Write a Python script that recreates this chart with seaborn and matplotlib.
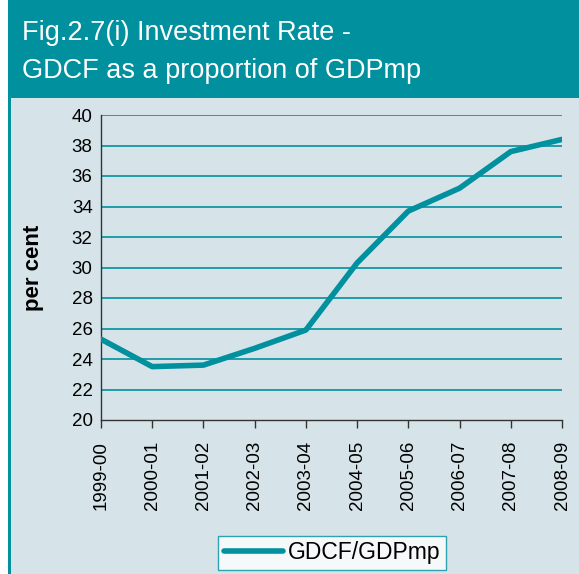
import matplotlib
matplotlib.use("Agg")
import matplotlib.pyplot as plt
import seaborn as sns
import pandas as pd
from matplotlib.patches import Rectangle

years = ["1999-00", "2000-01", "2001-02", "2002-03", "2003-04",
         "2004-05", "2005-06", "2006-07", "2007-08", "2008-09"]
gdcf = [25.3, 23.5, 23.6, 24.7, 25.9, 30.3, 33.7, 35.2, 37.6, 38.4]
yticks = [20, 22, 24, 26, 28, 30, 32, 34, 36, 38, 40]

TEAL = "#00909E"
BG = "#D6E4EA"
FAM = ['Liberation Sans', 'Arimo', 'DejaVu Sans']

sns.set_theme(style="white")
plt.rcParams['font.family'] = FAM

W, H = 579, 574
fig = plt.figure(figsize=(W / 100, H / 100), dpi=100)
fig.patch.set_facecolor("white")

# panel background and title band
fig.add_artist(Rectangle((8 / W, 0), 1 - 8 / W, 1 - 98 / H, transform=fig.transFigure,
                         facecolor=BG, edgecolor="none", zorder=0))
fig.add_artist(Rectangle((8 / W, 0), 3 / W, 1, transform=fig.transFigure,
                         facecolor=TEAL, edgecolor="none", zorder=0))
fig.add_artist(Rectangle((8 / W, 1 - 98 / H), 1 - 8 / W, 98 / H, transform=fig.transFigure,
                         facecolor=TEAL, edgecolor="none", zorder=0))
fig.text(22 / W, 1 - 33 / H, "Fig.2.7(i) Investment Rate -", color="white", fontsize=19.5,
         family=FAM, va="center", ha="left")
fig.text(22 / W, 1 - 71 / H, "GDCF as a proportion of GDPmp", color="white", fontsize=19.5,
         family=FAM, va="center", ha="left")

ax = fig.add_axes([101 / W, 1 - 420 / H, (562 - 101) / W, (420 - 115) / H])
ax.set_facecolor("none")

df = pd.DataFrame({"year": years, "GDCF/GDPmp": gdcf})
df["x"] = range(len(years))
sns.lineplot(data=df, x="x", y="GDCF/GDPmp", ax=ax, color=TEAL, linewidth=4,
             label="GDCF/GDPmp", solid_capstyle="round", solid_joinstyle="round", zorder=3)

ax.set_xlim(0, len(years) - 1)
ax.set_ylim(20, 40)
ax.set_yticks(yticks)
ax.set_yticklabels([str(t) for t in yticks], fontsize=13.5, color="black", family=FAM)
ax.set_xticks(range(len(years)))
ax.set_xticklabels(years, rotation=90, fontsize=13.5, color="black", family=FAM)
ax.tick_params(axis="x", which="major", direction="out", length=6, width=1, color="#333333",
               bottom=True, pad=9)
ax.tick_params(axis="y", length=0, pad=6)
for yv in yticks[1:]:
    ax.axhline(yv, color=TEAL, linewidth=1.2, zorder=1)
for s in ["top", "right"]:
    ax.spines[s].set_visible(False)
for s in ["left", "bottom"]:
    ax.spines[s].set_color("#333333")
    ax.spines[s].set_linewidth(1)
ax.set_xlabel("")
ax.set_ylabel("per cent", fontsize=16, fontweight="bold", labelpad=20, color="black", family=FAM)

leg = ax.legend(loc="center", bbox_to_anchor=((332 - 101) / (562 - 101), -(553 - 420) / (420 - 115)),
                frameon=True, fancybox=False, prop={"family": FAM, "size": 16.5},
                handlelength=2.6, handletextpad=0.2, borderpad=0.25, borderaxespad=0)
for t in leg.get_texts():
    t.set_color("black")
leg.get_frame().set_edgecolor(TEAL)
leg.get_frame().set_facecolor("white")
leg.get_frame().set_linewidth(1)

fig.savefig("out.png", dpi=100)
